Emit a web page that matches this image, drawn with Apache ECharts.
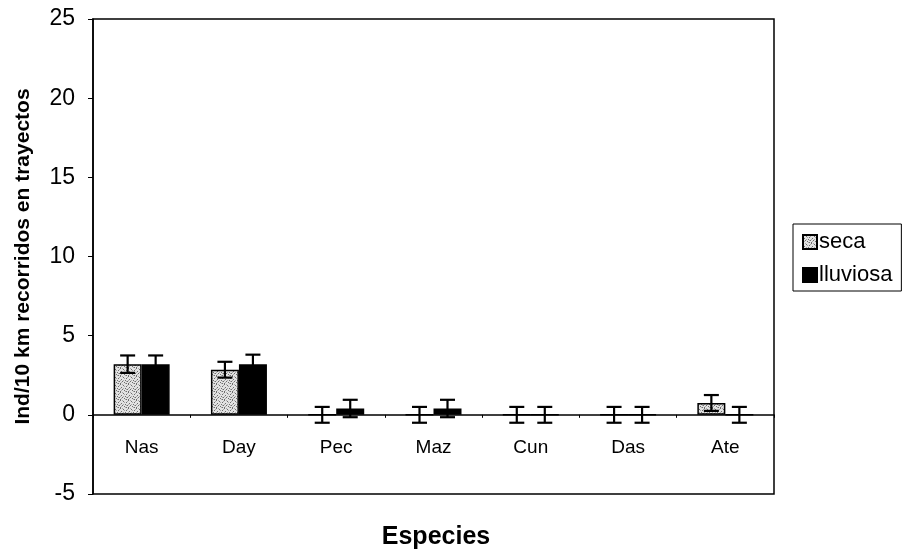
<!DOCTYPE html>
<html>
<head>
<meta charset="utf-8">
<script src="https://cdn.jsdelivr.net/npm/echarts@6/dist/echarts.min.js"></script>
<style>
html,body{margin:0;padding:0;background:#fff;}
#chart{width:908px;height:552px;}
</style>
</head>
<body>
<div id="chart"></div>
<script>
var categories = ['Nas', 'Day', 'Pec', 'Maz', 'Cun', 'Das', 'Ate'];
var seca = [3.2, 2.85, 0, 0, 0, 0, 0.75];
var lluviosa = [3.2, 3.2, 0.4, 0.4, 0, 0, 0];
var secaErr = [0.55, 0.5, 0.5, 0.5, 0.5, 0.5, 0.5];
var lluviosaErr = [0.55, 0.6, 0.55, 0.55, 0.5, 0.5, 0.5];
var yTicks = [-5, 0, 5, 10, 15, 20, 25];

var FONT = 'Liberation Sans, Arial, sans-serif';

// speckled texture for "seca" bars
function makePattern() {
  var c = document.createElement('canvas');
  c.width = 8; c.height = 8;
  var ctx = c.getContext('2d');
  ctx.fillStyle = '#e2e2e2';
  ctx.fillRect(0, 0, 8, 8);
  ctx.fillStyle = '#6e6e6e';
  var dots = [[0,0],[3,1],[6,2],[1,3],[5,4],[2,5],[7,5],[4,6],[0,7],[6,7]];
  dots.forEach(function (d) { ctx.fillRect(d[0], d[1], 1, 1); });
  ctx.fillStyle = '#a8a8a8';
  var dots2 = [[2,0],[7,1],[4,2],[0,4],[3,4],[6,5],[1,6],[5,7]];
  dots2.forEach(function (d) { ctx.fillRect(d[0], d[1], 1, 1); });
  return c;
}
var pattern = { image: makePattern(), repeat: 'repeat' };

var BAR_W = 28;
function errSeries(vals, errs, side) {
  var data = vals.map(function (v, i) { return [i, v - errs[i], v + errs[i]]; });
  return {
    type: 'custom',
    silent: true,
    z: 10,
    renderItem: function (params, api) {
      var lo = api.coord([api.value(0), api.value(1)]);
      var hi = api.coord([api.value(0), api.value(2)]);
      var x = lo[0] + side * BAR_W / 2;
      var cap = 7.5;
      var st = { stroke: '#000', lineWidth: 2.2 };
      return {
        type: 'group',
        children: [
          { type: 'line', shape: { x1: x, y1: lo[1], x2: x, y2: hi[1] }, style: st },
          { type: 'line', shape: { x1: x - cap, y1: lo[1], x2: x + cap, y2: lo[1] }, style: st },
          { type: 'line', shape: { x1: x - cap, y1: hi[1], x2: x + cap, y2: hi[1] }, style: st }
        ]
      };
    },
    encode: { x: 0, y: [1, 2] },
    data: data
  };
}

var chart = echarts.init(document.getElementById('chart'), null, { renderer: 'canvas' });
chart.setOption({
  animation: false,
  backgroundColor: '#fff',
  textStyle: { fontFamily: FONT, color: '#000' },
  title: {
    text: 'Especies',
    left: 436, top: 525,
    textAlign: 'center',
    padding: 0,
    textStyle: { fontSize: 25, fontWeight: 'bold', color: '#000', fontFamily: FONT }
  },
  grid: {
    left: 93, right: 134, top: 19, bottom: 58,
    show: true, borderColor: '#000', borderWidth: 1.5, backgroundColor: 'transparent'
  },
  legend: {
    orient: 'vertical',
    left: 793, top: 224,
    padding: [7, 9, 5, 9],
    itemGap: 11,
    itemWidth: 14, itemHeight: 14,
    icon: 'rect',
    borderColor: '#000', borderWidth: 1,
    textStyle: { fontSize: 22, color: '#000', fontFamily: FONT, padding: [0, 0, 0, -3] },
    data: ['seca', 'lluviosa']
  },
  xAxis: {
    type: 'category',
    data: categories,
    axisLine: { onZero: true, lineStyle: { color: '#000', width: 1.5 } },
    axisTick: { show: true, length: 3, lineStyle: { color: '#000' } },
    axisLabel: { fontSize: 19, color: '#000', margin: -56 }
  },
  yAxis: {
    type: 'value',
    min: -5, max: 25, interval: 5,
    name: 'Ind/10 km recorridos en trayectos',
    nameLocation: 'middle',
    nameGap: 59,
    nameMoveOverlap: false,
    nameTextStyle: { fontSize: 21, fontWeight: 'bold', color: '#000', fontFamily: FONT },
    axisLine: { show: true, lineStyle: { color: '#000', width: 1.5 } },
    axisTick: { show: true, length: 5, lineStyle: { color: '#000' } },
    splitLine: { show: false },
    axisLabel: {
      fontSize: 23, color: '#000', margin: 18,
      formatter: function (v) { return yTicks.indexOf(v) >= 0 ? String(v) : ''; }
    }
  },
  series: [
    {
      name: 'seca', type: 'bar', data: seca, barWidth: BAR_W, barGap: '0%',
      itemStyle: { color: pattern, borderColor: '#000', borderWidth: 1.5 }
    },
    {
      name: 'lluviosa', type: 'bar', data: lluviosa, barWidth: BAR_W, barGap: '0%',
      itemStyle: { color: '#000', borderColor: '#000', borderWidth: 1.5 }
    },
    errSeries(seca, secaErr, -1),
    errSeries(lluviosa, lluviosaErr, 1)
  ]
});
</script>
</body>
</html>
